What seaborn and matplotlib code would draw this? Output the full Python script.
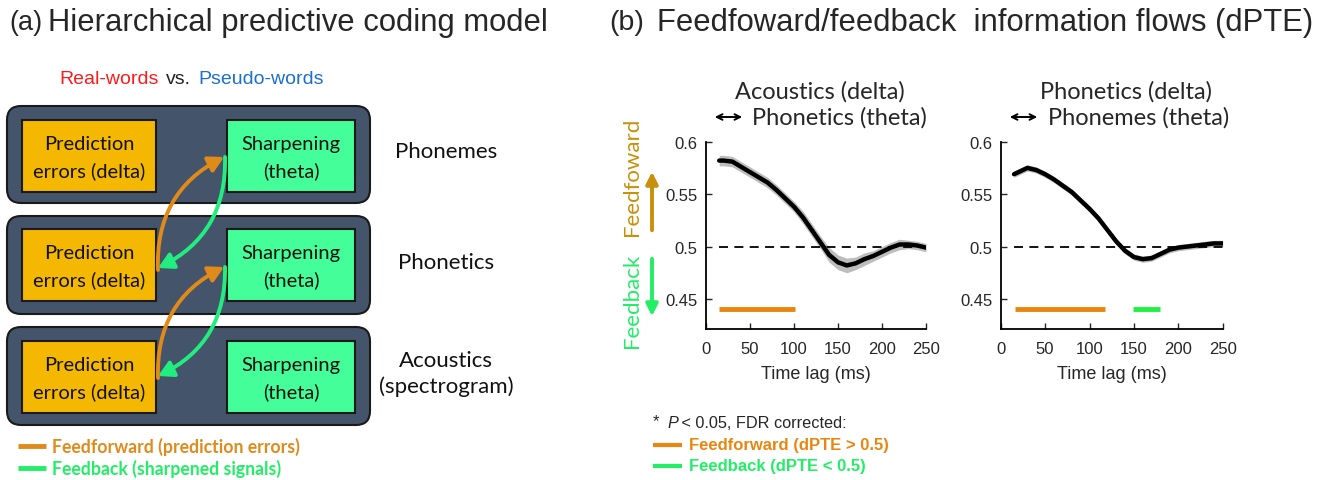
import numpy as np
import pandas as pd
import matplotlib
matplotlib.use("Agg")
import matplotlib.pyplot as plt
import seaborn as sns
from matplotlib.patches import FancyBboxPatch, Rectangle, FancyArrowPatch

# ---------------- data ----------------
time_ms = [15, 20, 30, 40, 50, 60, 70, 80, 90, 100, 110, 120, 130, 140, 150,
           160, 170, 180, 190, 200, 210, 220, 230, 240, 250]
dpte_acoustic_phonetic = [0.582, 0.582, 0.581, 0.576, 0.571, 0.566, 0.561, 0.554,
                          0.546, 0.538, 0.528, 0.516, 0.504, 0.492, 0.485, 0.482,
                          0.484, 0.488, 0.491, 0.495, 0.499, 0.502, 0.502, 0.501, 0.499]
sem_acoustic_phonetic = [0.005, 0.005, 0.005, 0.005, 0.005, 0.005, 0.005, 0.005,
                         0.005, 0.005, 0.006, 0.006, 0.006, 0.007, 0.007, 0.007,
                         0.006, 0.006, 0.005, 0.005, 0.005, 0.005, 0.004, 0.004, 0.004]
dpte_phonetic_phoneme = [0.569, 0.571, 0.575, 0.573, 0.569, 0.564, 0.558, 0.552,
                         0.544, 0.536, 0.527, 0.516, 0.505, 0.496, 0.490, 0.488,
                         0.489, 0.493, 0.497, 0.499, 0.500, 0.501, 0.502, 0.503, 0.503]
sem_phonetic_phoneme = [0.003] * 25

threshold = 0.5
sig_level = 0.44
sig_ff_left = [(15, 101)]
sig_fb_left = []
sig_ff_right = [(16, 117)]
sig_fb_right = [(149, 179)]

xticks = [0, 50, 100, 150, 200, 250]
yticks = [0.45, 0.5, 0.55, 0.6]
ytick_labels = ["0.45", "0.5", "0.55", "0.6"]

levels = ["Phonemes", "Phonetics", "Acoustics\n(spectrogram)"]

# ---------------- style ----------------
sns.set_style("white")
plt.rcParams["font.family"] = ["Liberation Sans", "DejaVu Sans"]

W, H = 1323, 481
fig = plt.figure(figsize=(W / 100, H / 100), dpi=100)

ov = fig.add_axes([0, 0, 1, 1])
ov.set_xlim(0, W)
ov.set_ylim(H, 0)
ov.axis("off")

DARK = "#44546A"
GOLD = "#F5B800"
MINT = "#44FF99"
ARR_OR = "#E08A1A"
ARR_GR = "#22EE80"
CAL = ["Lato", "DejaVu Sans"]

# ---------------- headers ----------------
ov.text(9, 23, "(a)", fontsize=19.5, va="center", ha="left")
ov.text(48, 23, "Hierarchical predictive coding model", fontsize=22.3, va="center", ha="left")
ov.text(609, 23, "(b)", fontsize=20.5, va="center", ha="left")
ov.text(657, 23, "Feedfoward/feedback  information flows (dPTE)", fontsize=22.3,
        va="center", ha="left")

# ---------------- panel (a) diagram ----------------
ov.text(59, 80, "Real-words", color="#FF1A1A", fontsize=14, va="center", ha="left")
ov.text(166, 80, "vs.", color="#222222", fontsize=14, va="center", ha="left")
ov.text(198, 80, "Pseudo-words", color="#1A6FD0", fontsize=14, va="center", ha="left")

rows = [(107, 204, 121, 193), (217, 315, 230, 302), (328, 426, 342, 414)]
for (y0, y1, iy0, iy1), lab in zip(rows, levels):
    ov.add_patch(FancyBboxPatch((7, y0), 363, y1 - y0,
                                boxstyle="round,pad=0,rounding_size=14",
                                fc=DARK, ec="#1a1a1a", lw=1.5))
    ov.add_patch(Rectangle((22, iy0), 134, iy1 - iy0, fc=GOLD, ec="#1a1a1a", lw=1.5))
    ov.add_patch(Rectangle((227, iy0), 128, iy1 - iy0, fc=MINT, ec="#1a1a1a", lw=1.5))
    cy = (iy0 + iy1) / 2 + 1
    ov.text(89, cy, "Prediction\nerrors (delta)", fontsize=14.5, family=CAL,
            ha="center", va="center", linespacing=1.6, color="#111111")
    ov.text(291, cy, "Sharpening\n(theta)", fontsize=14.5, family=CAL,
            ha="center", va="center", linespacing=1.6, color="#111111")
    ov.text(446, (y0 + y1) / 2 - 3, lab, fontsize=16, family=CAL,
            ha="center", va="center", linespacing=1.3, color="#111111")

for pe_y, sh_y in [(271, 158), (379, 268)]:
    ov.add_patch(FancyArrowPatch((158, pe_y), (224, sh_y),
                                 connectionstyle="arc3,rad=-0.32",
                                 arrowstyle="-|>,head_length=9,head_width=5",
                                 color=ARR_OR, lw=2.8, shrinkA=0, shrinkB=0))
    ov.add_patch(FancyArrowPatch((225, sh_y), (158, pe_y - 2),
                                 connectionstyle="arc3,rad=-0.32",
                                 arrowstyle="-|>,head_length=9,head_width=5",
                                 color=ARR_GR, lw=2.8, shrinkA=0, shrinkB=0))

ov.plot([18, 46], [447, 447], color=ARR_OR, lw=3.5, solid_capstyle="butt")
ov.text(52, 447, "Feedforward (prediction errors)", color="#E08A1A", fontsize=12.7,
        fontweight="bold", family=CAL, va="center", ha="left")
ov.plot([18, 46], [469, 469], color="#22EE66", lw=3.5, solid_capstyle="butt")
ov.text(52, 469, "Feedback (sharpened signals)", color="#22EE66", fontsize=12.7,
        fontweight="bold", family=CAL, va="center", ha="left")

# ---------------- panel (b) axes ----------------
ax_bottom = (H - 330) / H
ax_height = (330 - 142.7) / H
axL = fig.add_axes([706 / W, ax_bottom, 220 / W, ax_height])
axR = fig.add_axes([1000.7 / W, ax_bottom, 222 / W, ax_height])

datasets = [
    (axL, dpte_acoustic_phonetic, sem_acoustic_phonetic, sig_ff_left, sig_fb_left),
    (axR, dpte_phonetic_phoneme, sem_phonetic_phoneme, sig_ff_right, sig_fb_right),
]
for ax, mean, sem, ff, fb in datasets:
    ax.patch.set_alpha(0)
    m = np.array(mean)
    s = np.array(sem)
    ax.fill_between(time_ms, m - s, m + s, color="#BDBDBD", lw=0, zorder=1)
    ax.plot([time_ms[0], time_ms[-1]], [threshold, threshold], color="black",
            lw=1.3, ls=(0, (5, 3.5)), zorder=2)
    df = pd.DataFrame({"t": time_ms, "dpte": mean})
    sns.lineplot(data=df, x="t", y="dpte", ax=ax, color="black", lw=3.2, zorder=3)
    for a, b in ff:
        ax.hlines(sig_level, a, b, color="#E8870F", lw=3.5)
    for a, b in fb:
        ax.hlines(sig_level, a, b, color="#22F040", lw=3.5)
    ax.set_xlim(0, 250)
    ax.set_ylim(0.4214, 0.6)
    ax.set_xticks(xticks)
    ax.set_yticks(yticks)
    ax.set_yticklabels(ytick_labels)
    ax.set_xlabel("Time lag (ms)", fontsize=13, color="#262626", labelpad=6)
    ax.set_ylabel("")
    for sp in ["top", "right"]:
        ax.spines[sp].set_visible(False)
    for sp in ["left", "bottom"]:
        ax.spines[sp].set_color("black")
        ax.spines[sp].set_linewidth(1.3)
    ax.tick_params(axis="x", direction="in", length=4, width=1, labelsize=12,
                   labelcolor="#262626", pad=9, bottom=True)
    ax.tick_params(axis="y", direction="in", length=4, width=1, labelsize=12,
                   labelcolor="#262626", pad=6, left=True)

# subplot titles
ov.text(820, 92, "Acoustics (delta)", fontsize=17, family=CAL, ha="center", va="center")
ov.annotate("", xy=(745, 118), xytext=(712, 118),
            arrowprops=dict(arrowstyle="<->", lw=1.4, color="black"))
ov.text(752, 118, "Phonetics (theta)", fontsize=17, family=CAL, ha="left", va="center")
ov.text(1126, 92, "Phonetics (delta)", fontsize=17, family=CAL, ha="center", va="center")
ov.annotate("", xy=(1040, 118), xytext=(1007, 118),
            arrowprops=dict(arrowstyle="<->", lw=1.4, color="black"))
ov.text(1048, 118, "Phonemes (theta)", fontsize=17, family=CAL, ha="left", va="center")

# Feedforward / feedback side labels
ov.text(632, 177, "Feedfoward", rotation=90, color="#C8900A", fontsize=16, family=CAL,
        ha="center", va="center")
ov.annotate("", xy=(652, 170), xytext=(652, 234),
            arrowprops=dict(arrowstyle="-|>,head_length=0.7,head_width=0.35",
                            lw=2.8, color="#C8900A"))
ov.text(632, 301, "Feedback", rotation=90, color="#22EE66", fontsize=16, family=CAL,
        ha="center", va="center")
ov.annotate("", xy=(652, 320), xytext=(652, 257),
            arrowprops=dict(arrowstyle="-|>,head_length=0.7,head_width=0.35",
                            lw=2.8, color="#22EE66"))

# panel (b) legend
ov.text(653, 422, "*", fontsize=12, ha="left", va="center")
ov.text(667, 424, "P", fontsize=11.7, style="italic", ha="left", va="center")
ov.text(677, 424, " < 0.05, FDR corrected:", fontsize=11.7, ha="left", va="center")
ov.plot([653, 682], [446, 446], color="#E8870F", lw=3, solid_capstyle="butt")
ov.text(689, 446, "Feedforward (dPTE > 0.5)", color="#E8870F", fontsize=12,
        fontweight="bold", ha="left", va="center")
ov.plot([653, 682], [467, 467], color="#22EE66", lw=3, solid_capstyle="butt")
ov.text(689, 467, "Feedback (dPTE < 0.5)", color="#22EE66", fontsize=12,
        fontweight="bold", ha="left", va="center")

fig.savefig("out.png", dpi=100)
